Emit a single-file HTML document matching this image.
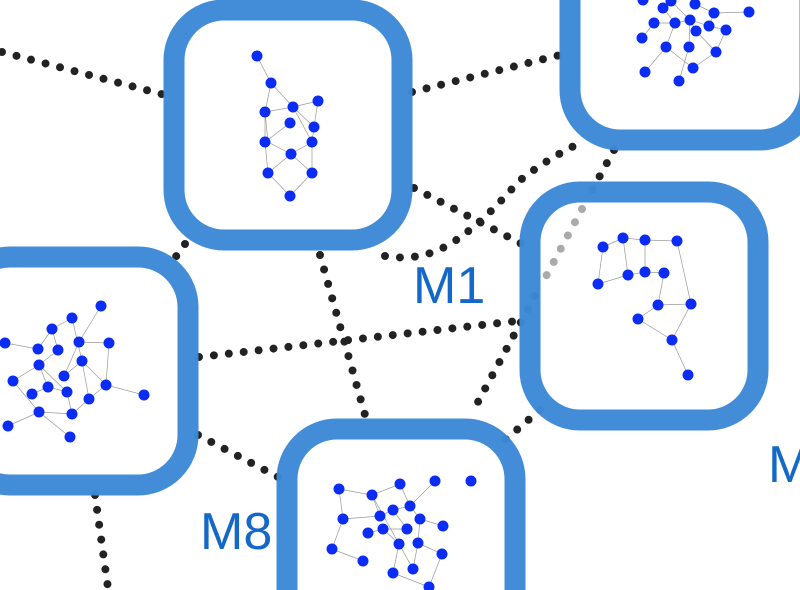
<!DOCTYPE html>
<html><head><meta charset="utf-8"><style>
html,body{margin:0;padding:0;background:#fff;width:800px;height:590px;overflow:hidden;position:relative}
svg{position:absolute;left:0;top:0}
</style></head><body>
<svg width="800" height="590" viewBox="0 0 800 590" xmlns="http://www.w3.org/2000/svg">
<g stroke="#222" stroke-width="8" stroke-linecap="round" stroke-dasharray="0 15" fill="none">
<line x1="2" y1="52" x2="165" y2="95"/>
<line x1="412" y1="92" x2="560" y2="55"/>
<line x1="414" y1="188" x2="522" y2="244"/>
<path d="M385 256 Q420 262 450 244 T518 182 Q545 160 580 143"/>
<line x1="614" y1="150" x2="590" y2="194"/>
<line x1="535" y1="296" x2="472" y2="413"/>
<line x1="199" y1="357" x2="517" y2="321"/>
<line x1="540" y1="410" x2="505" y2="440"/>
<line x1="185" y1="244" x2="172" y2="262"/>
<line x1="320" y1="255" x2="367" y2="422"/>
<line x1="198" y1="435" x2="280" y2="478"/>
<line x1="95" y1="495" x2="108" y2="588"/>
</g>
<g fill="#fff" stroke="#3d8ad7" stroke-width="21" opacity="0.97">
<rect x="174" y="10" width="228" height="230" rx="50"/>
<rect x="-40" y="257" width="228" height="228" rx="50"/>
<rect x="530" y="192" width="228" height="228" rx="50"/>
<rect x="570" y="-88" width="240" height="228" rx="50"/>
<rect x="287" y="429" width="228" height="228" rx="50"/>
</g>
<g stroke="#aaa" stroke-width="8" stroke-linecap="round" stroke-dasharray="0 15">
<line x1="582" y1="209" x2="543" y2="282"/>
</g>
<g stroke="#999" stroke-width="0.7" fill="none">
<path d="M257 56L271 83L293 107L318 101L314 127L312 142L291 154L268 142L265 112L271 83M293 107L265 112L265 142L268 173L290 196L312 173L312 142M293 107L312 142M290 123L265 142M291 154L312 173M291 154L268 173M293 107L314 127"/>
<path d="M101 306L79 342L109 343L106 385L144 395M72 318L52 329L38 349L5 343M72 318L82 361L106 385L89 399L72 414L39 412L8 426M39 365L13 381L39 412L70 437M58 350L39 365L48 387L67 392L72 414M64 376L82 361L89 399M32 394L48 387M39 365L67 392M52 329L58 350M79 342L64 376"/>
<path d="M603 247L623 238L645 240L677 241M603 247L598 284L628 275L645 272L664 273M623 238L628 275M645 240L645 272M664 273L658 305L691 304L672 340L688 375M658 305L638 319L672 340M677 241L691 304"/>
<path d="M339 489L372 495L400 484M372 495L380 516L393 510L410 506L435 481M339 489L343 519L332 549L363 561M343 519L380 516M383 529L399 544L393 573L429 587L442 554L418 543L420 519L443 526M399 544L413 569L418 543M368 533L383 529L407 529L393 510M410 506L420 519M372 495L399 544M400 484L410 506"/>
<path d="M663 8L675 23L654 23L642 38M671 1L690 20L709 26L714 13L749 12M675 23L666 47L645 72M690 20L689 47L679 81M696 31L716 52L693 68M709 26L726 30L716 52M695 4L714 13M675 23L690 20L696 31M666 47L693 68"/>
</g>
<g fill="#0a2cf5">
<circle cx="257" cy="56" r="5.5"/><circle cx="271" cy="83" r="5.5"/><circle cx="293" cy="107" r="5.5"/><circle cx="318" cy="101" r="5.5"/><circle cx="265" cy="112" r="5.5"/><circle cx="290" cy="123" r="5.5"/><circle cx="314" cy="127" r="5.5"/><circle cx="265" cy="142" r="5.5"/><circle cx="312" cy="142" r="5.5"/><circle cx="291" cy="154" r="5.5"/><circle cx="268" cy="173" r="5.5"/><circle cx="312" cy="173" r="5.5"/><circle cx="290" cy="196" r="5.5"/>
<circle cx="101" cy="306" r="5.5"/><circle cx="72" cy="318" r="5.5"/><circle cx="52" cy="329" r="5.5"/><circle cx="79" cy="342" r="5.5"/><circle cx="109" cy="343" r="5.5"/><circle cx="5" cy="343" r="5.5"/><circle cx="38" cy="349" r="5.5"/><circle cx="58" cy="350" r="5.5"/><circle cx="39" cy="365" r="5.5"/><circle cx="82" cy="361" r="5.5"/><circle cx="64" cy="376" r="5.5"/><circle cx="13" cy="381" r="5.5"/><circle cx="106" cy="385" r="5.5"/><circle cx="48" cy="387" r="5.5"/><circle cx="67" cy="392" r="5.5"/><circle cx="32" cy="394" r="5.5"/><circle cx="89" cy="399" r="5.5"/><circle cx="144" cy="395" r="5.5"/><circle cx="39" cy="412" r="5.5"/><circle cx="72" cy="414" r="5.5"/><circle cx="8" cy="426" r="5.5"/><circle cx="70" cy="437" r="5.5"/>
<circle cx="603" cy="247" r="5.5"/><circle cx="623" cy="238" r="5.5"/><circle cx="645" cy="240" r="5.5"/><circle cx="677" cy="241" r="5.5"/><circle cx="628" cy="275" r="5.5"/><circle cx="645" cy="272" r="5.5"/><circle cx="664" cy="273" r="5.5"/><circle cx="598" cy="284" r="5.5"/><circle cx="658" cy="305" r="5.5"/><circle cx="691" cy="304" r="5.5"/><circle cx="638" cy="319" r="5.5"/><circle cx="672" cy="340" r="5.5"/><circle cx="688" cy="375" r="5.5"/>
<circle cx="339" cy="489" r="5.5"/><circle cx="372" cy="495" r="5.5"/><circle cx="400" cy="484" r="5.5"/><circle cx="435" cy="481" r="5.5"/><circle cx="471" cy="481" r="5.5"/><circle cx="410" cy="506" r="5.5"/><circle cx="393" cy="510" r="5.5"/><circle cx="343" cy="519" r="5.5"/><circle cx="380" cy="516" r="5.5"/><circle cx="420" cy="519" r="5.5"/><circle cx="383" cy="529" r="5.5"/><circle cx="407" cy="529" r="5.5"/><circle cx="368" cy="533" r="5.5"/><circle cx="443" cy="526" r="5.5"/><circle cx="399" cy="544" r="5.5"/><circle cx="418" cy="543" r="5.5"/><circle cx="332" cy="549" r="5.5"/><circle cx="442" cy="554" r="5.5"/><circle cx="363" cy="561" r="5.5"/><circle cx="413" cy="569" r="5.5"/><circle cx="393" cy="573" r="5.5"/><circle cx="429" cy="587" r="5.5"/>
<circle cx="643" cy="0" r="5.5"/><circle cx="671" cy="1" r="5.5"/><circle cx="695" cy="4" r="5.5"/><circle cx="663" cy="8" r="5.5"/><circle cx="714" cy="13" r="5.5"/><circle cx="749" cy="12" r="5.5"/><circle cx="654" cy="23" r="5.5"/><circle cx="675" cy="23" r="5.5"/><circle cx="690" cy="20" r="5.5"/><circle cx="709" cy="26" r="5.5"/><circle cx="696" cy="31" r="5.5"/><circle cx="726" cy="30" r="5.5"/><circle cx="642" cy="38" r="5.5"/><circle cx="666" cy="47" r="5.5"/><circle cx="689" cy="47" r="5.5"/><circle cx="716" cy="52" r="5.5"/><circle cx="693" cy="68" r="5.5"/><circle cx="645" cy="72" r="5.5"/><circle cx="679" cy="81" r="5.5"/>
</g>
<g fill="#1468c8" font-family="Liberation Sans, sans-serif" font-size="52">
<text x="413" y="303">M1</text>
<text x="200" y="549">M8</text>
<text x="768" y="482">M</text>
</g>
</svg>
</body></html>
